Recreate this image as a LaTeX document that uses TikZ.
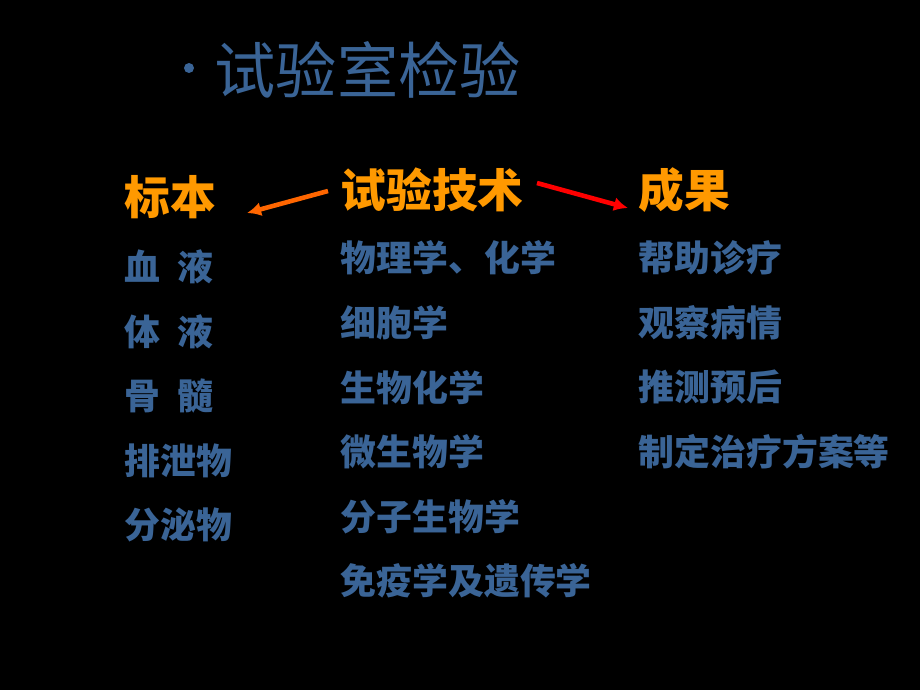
\documentclass[tikz,border=0pt]{standalone}
\usepackage{fontspec}
\newfontfamily\cjk{Noto Sans CJK SC}
\usetikzlibrary{arrows.meta}
\definecolor{itemblue}{RGB}{58,100,150}
\definecolor{headorange}{RGB}{255,153,0}
\definecolor{arrowleft}{RGB}{255,102,0}
\definecolor{arrowright}{RGB}{255,0,0}
\tikzset
{
  item/.style={anchor=west,inner sep=0pt,text=itemblue,font=\cjk\bfseries\fontsize{10.2}{12}\selectfont},
  head/.style={anchor=west,inner sep=0pt,text=headorange,font=\cjk\bfseries\fontsize{13}{15}\selectfont},
  link/.style={line width=1.3pt,-{Latex[length=4pt,width=4pt]}}
}
\begin{document}
\begin{tikzpicture}[x=0.01cm,y=-0.01cm]
  \fill[black] (0,0) rectangle (920,690);
  % title
  \fill[itemblue] (189,68) circle (5);
  \node[anchor=west,inner sep=0pt,text=itemblue,font=\cjk\fontsize{17.4}{20}\selectfont] (title) at (214,70) {试验室检验};
  % headers
  \node[head] (sample) at (124,197) {标本};
  \node[head] (tech) at (340,190) {试验技术};
  \node[head] (result) at (638,190) {成果};
  \draw[link,arrowleft] (328,191) coordinate (tl) -- (247,213) coordinate (sl);
  \draw[link,arrowright] (537,183) coordinate (tr) -- (628,208) coordinate (rl);
  % left column
  \foreach \t [count=\i] in {血\ \ 液,体\ \ 液,骨\ \ 髓,排泄物,分泌物}
    \node[item] (s\i) at (124,{267+64.5*(\i-1)}) {\t};
  % middle column
  \foreach \t [count=\i] in {物理学、化学,细胞学,生物化学,微生物学,分子生物学,免疫学及遗传学}
    \node[item] (t\i) at (340,{258+64.6*(\i-1)}) {\t};
  % right column
  \foreach \t [count=\i] in {帮助诊疗,观察病情,推测预后,制定治疗方案等}
    \node[item] (r\i) at (638,{258+64.6*(\i-1)}) {\t};
\end{tikzpicture}
\end{document}
